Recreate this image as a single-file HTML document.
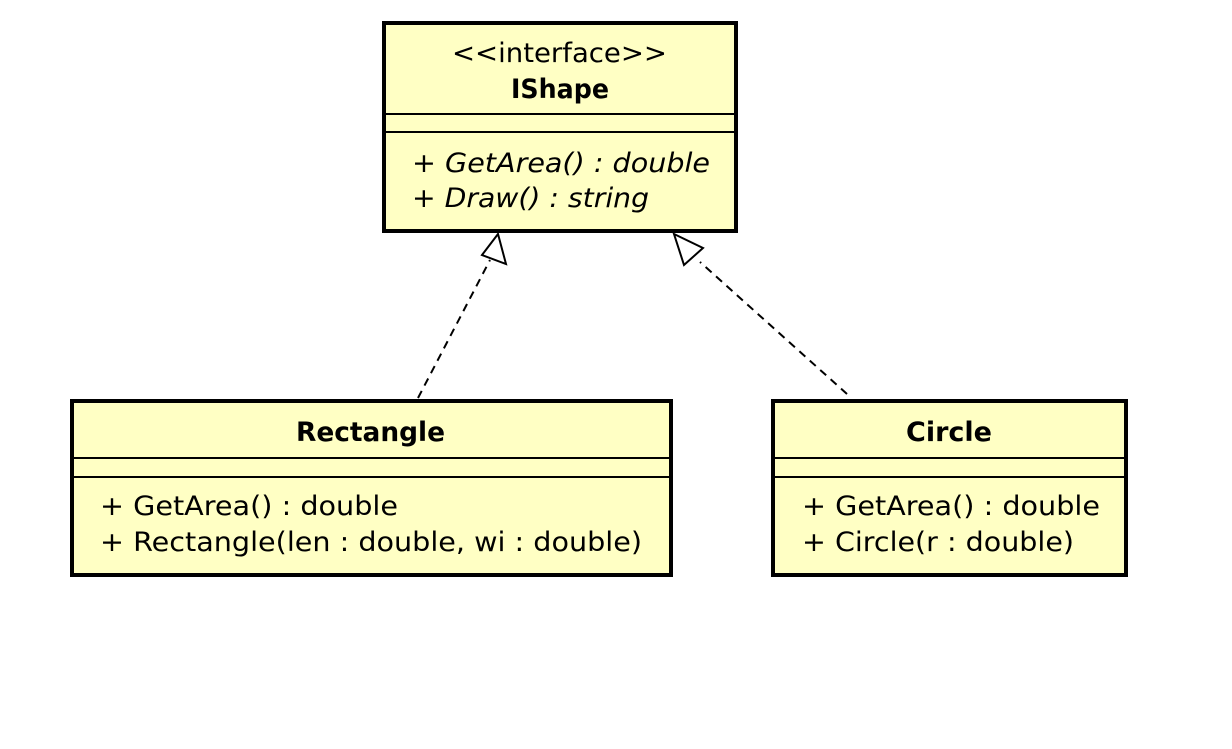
<!DOCTYPE html>
<html><head><style>
html,body{margin:0;padding:0;background:#fff;}
svg text{font-family:"DejaVu Sans","Liberation Sans",sans-serif;fill:#000;}
</style></head><body>
<svg width="1232" height="744" viewBox="0 0 1232 744" xmlns="http://www.w3.org/2000/svg">
<g stroke="#000" fill="#ffffc4">
<rect x="384" y="23" width="352" height="208" stroke-width="4"/>
<rect x="72" y="401" width="599" height="174" stroke-width="4"/>
<rect x="773" y="401" width="353" height="174" stroke-width="4"/>
</g>
<g stroke="#000" stroke-width="2">
<line x1="384" y1="114" x2="736" y2="114"/>
<line x1="384" y1="132" x2="736" y2="132"/>
<line x1="72" y1="458" x2="671" y2="458"/>
<line x1="72" y1="477" x2="671" y2="477"/>
<line x1="773" y1="458" x2="1126" y2="458"/>
<line x1="773" y1="477" x2="1126" y2="477"/>
</g>
<g stroke="#000" stroke-width="2" fill="none" stroke-dasharray="8,6">
<line x1="418" y1="398" x2="490" y2="260"/>
<line x1="847" y1="394" x2="700" y2="262"/>
</g>
<g stroke="#000" stroke-width="2" fill="#fff">
<polygon points="498,234 506,264 482,255"/>
<polygon points="674,234 703,248 684,265"/>
</g>
<g font-size="27">
<text x="452" y="62" textLength="215" lengthAdjust="spacingAndGlyphs">&lt;&lt;interface&gt;&gt;</text>
<text x="511" y="98" font-weight="bold" textLength="98" lengthAdjust="spacingAndGlyphs">IShape</text>
<text x="296" y="441" font-weight="bold" textLength="149" lengthAdjust="spacingAndGlyphs">Rectangle</text>
<text x="906" y="441" font-weight="bold" textLength="86" lengthAdjust="spacingAndGlyphs">Circle</text>
<text x="412" y="172" font-style="italic" textLength="298" lengthAdjust="spacingAndGlyphs">+ GetArea() : double</text>
<text x="412" y="207" font-style="italic" textLength="237" lengthAdjust="spacingAndGlyphs">+ Draw() : string</text>
<text x="100" y="515" textLength="298" lengthAdjust="spacingAndGlyphs">+ GetArea() : double</text>
<text x="100" y="551" textLength="542" lengthAdjust="spacingAndGlyphs">+ Rectangle(len : double, wi : double)</text>
<text x="802" y="515" textLength="298" lengthAdjust="spacingAndGlyphs">+ GetArea() : double</text>
<text x="802" y="551" textLength="272" lengthAdjust="spacingAndGlyphs">+ Circle(r : double)</text>
</g>
</svg>
</body></html>
